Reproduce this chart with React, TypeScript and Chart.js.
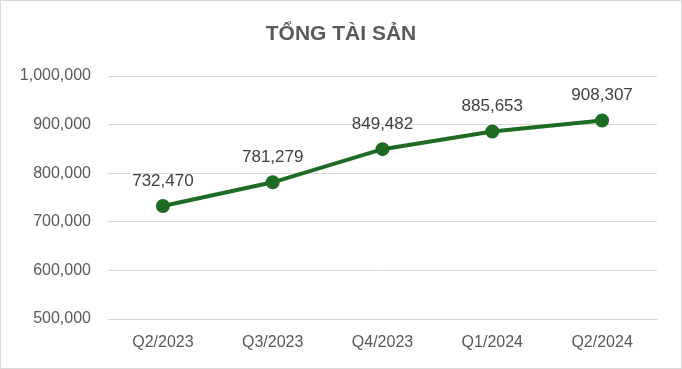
import React, { useEffect, useRef } from "react";
import { Chart, registerables } from "chart.js";

Chart.register(...registerables);

const categories = ["Q2/2023", "Q3/2023", "Q4/2023", "Q1/2024", "Q2/2024"];
const totalAssets = [732470, 781279, 849482, 885653, 908307];
const chartTitle = "TỔNG TÀI SẢN";
const yMin = 500000;
const yMax = 1000000;
const yStep = 100000;

const fmt = (v: number) => v.toLocaleString("en-US");

const frameAndTitle = {
  id: "frameAndTitle",
  beforeDraw(chart: any) {
    const { ctx, width, height } = chart;
    ctx.save();
    ctx.fillStyle = "#ffffff";
    ctx.fillRect(0, 0, width, height);
    ctx.strokeStyle = "#d9d9d9";
    ctx.lineWidth = 1;
    ctx.strokeRect(0.5, 0.5, width - 1, height - 1);
    ctx.restore();
  },
  afterDraw(chart: any) {
    const { ctx, width } = chart;
    ctx.save();
    ctx.font = "bold 21px 'Liberation Sans', Arial, sans-serif";
    ctx.fillStyle = "#595959";
    ctx.textAlign = "center";
    ctx.textBaseline = "middle";
    ctx.fillText(chartTitle, width / 2, 34);
    ctx.restore();
  },
};

const dataLabels = {
  id: "dataLabels",
  afterDatasetsDraw(chart: any) {
    const { ctx } = chart;
    const meta = chart.getDatasetMeta(0);
    ctx.save();
    ctx.font = "17px 'Liberation Sans', Arial, sans-serif";
    ctx.fillStyle = "#404040";
    ctx.textAlign = "center";
    ctx.textBaseline = "middle";
    meta.data.forEach((pt: any, i: number) => {
      ctx.fillText(fmt(chart.data.datasets[0].data[i]), pt.x, pt.y - 25);
    });
    ctx.restore();
  },
};

export default function App() {
  const ref = useRef<HTMLCanvasElement>(null);
  useEffect(() => {
    document.body.style.margin = "0";
    const chart = new Chart(ref.current!, {
      type: "line",
      data: {
        labels: categories,
        datasets: [
          {
            data: totalAssets,
            borderColor: "#1e6b24",
            backgroundColor: "#1e6b24",
            borderWidth: 4,
            pointRadius: 5,
            pointHoverRadius: 5,
            pointBackgroundColor: "#1e6b24",
            pointBorderColor: "#1e6b24",
            tension: 0,
          },
        ],
      },
      options: {
        responsive: false,
        animation: false,
        layout: { padding: { left: 0, right: 25, top: 76, bottom: 0 } },
        plugins: {
          legend: { display: false },
          title: { display: false },
          tooltip: { enabled: false },
        },
        scales: {
          x: {
            offset: true,
            grid: { display: false, drawTicks: false },
            border: { display: true, color: "#d9d9d9", width: 1 },
            ticks: {
              color: "#595959",
              font: { family: "'Liberation Sans', Arial, sans-serif", size: 16 },
              padding: 14,
              maxRotation: 0,
            },
            afterFit(scale: any) {
              scale.height = 50;
            },
          },
          y: {
            min: yMin,
            max: yMax,
            grid: { color: "#d9d9d9", lineWidth: 1, drawTicks: false },
            border: { display: false },
            ticks: {
              stepSize: yStep,
              color: "#595959",
              font: { family: "'Liberation Sans', Arial, sans-serif", size: 16 },
              padding: 17,
              callback: (v: any) => fmt(Number(v)),
            },
            afterFit(scale: any) {
              scale.width = 108;
            },
          },
        },
      },
      plugins: [frameAndTitle, dataLabels],
    });
    return () => chart.destroy();
  }, []);
  return <canvas ref={ref} width={682} height={369} style={{ display: "block" }} />;
}
